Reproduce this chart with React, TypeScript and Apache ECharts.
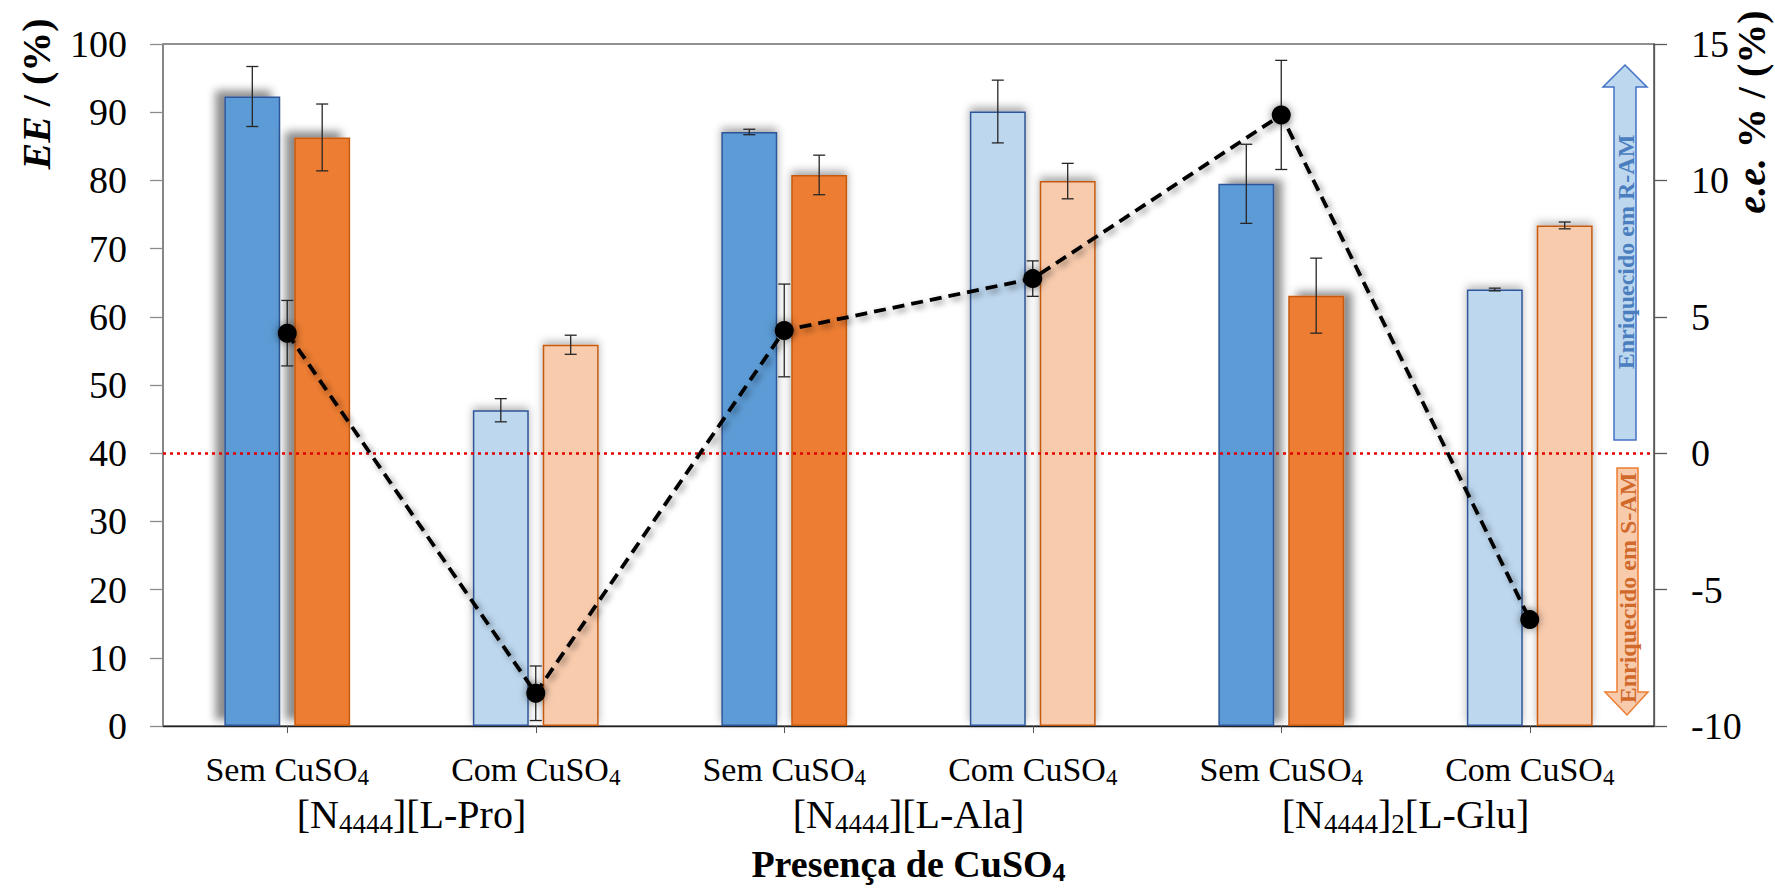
import React, { useEffect, useRef } from 'react';
import * as echarts from 'echarts';

// ---------- data ----------
const categories = ['Sem CuSO4', 'Com CuSO4', 'Sem CuSO4', 'Com CuSO4', 'Sem CuSO4', 'Com CuSO4'];
const groups = ['[N4444][L-Pro]', '[N4444][L-Ala]', '[N4444]2[L-Glu]'];
const rAm = [92.3, 46.3, 87.1, 90.1, 79.5, 64.0];
const rAmErr = [4.4, 1.7, 0.4, 4.6, 5.8, 0.2];
const sAm = [86.3, 55.9, 80.8, 79.9, 63.1, 73.4];
const sAmErr = [4.9, 1.4, 2.9, 2.6, 5.5, 0.5];
const ee = [4.4, -8.8, 4.5, 6.4, 12.4, -6.1];
const eeErr = [1.2, 1.0, 1.7, 0.65, 2.0, 0];
const leftAxis = { min: 0, max: 100, step: 10 };
const rightAxis = { min: -10, max: 15, step: 5 };
const xTitle = 'Presença de CuSO4';
const leftTitle = ['EE', ' / (%)'];
const rightTitle = ['e.e.', ' % / (%)'];
const arrowUpText = 'Enriquecido em R-AM';
const arrowDownText = 'Enriquecido em S-AM';

// ---------- styles ----------
const FONT = '"Liberation Serif", "Times New Roman", serif';
const BAR_W = 0.225;
const BAR_GAP = 0.25;
const BAR_OFFSET = (BAR_W * (1 + BAR_GAP)) / 2;
const shadowOffsets = [[-9, -6], [0, -3], [0, -4], [0, -4], [8, -4], [0, -3]];
const shadowAlpha = [0.45, 0.3, 0.35, 0.35, 0.45, 0.3];

const subMarkup = (s: string) => s.replace(/(\d+)/g, '{s|$1}');
const isCom = (c: string) => c.startsWith('Com');

function barItems(vals: number[], dark: string, light: string, border: string) {
  return vals.map((v, i) => ({
    value: v,
    itemStyle: {
      color: isCom(categories[i]) ? light : dark,
      borderColor: border,
      borderWidth: 1.5,
      shadowBlur: 8,
      shadowColor: `rgba(0,0,0,${shadowAlpha[i]})`,
      shadowOffsetX: shadowOffsets[i][0],
      shadowOffsetY: shadowOffsets[i][1],
    },
  }));
}

function errorRender(_params: any, api: any) {
  const i = api.value(0);
  const v = api.value(1);
  const e = api.value(2);
  const side = api.value(3);
  if (!e) return { type: 'group', children: [] };
  const band = api.size([1, 0])[0];
  const c = api.coord([i, v]);
  const x = c[0] + side * band * BAR_OFFSET;
  const y1 = api.coord([i, v + e])[1];
  const y2 = api.coord([i, v - e])[1];
  const w = 6;
  const style = { stroke: '#262626', lineWidth: 1.3 };
  return {
    type: 'group',
    children: [
      { type: 'line', shape: { x1: x, y1, x2: x, y2 }, style },
      { type: 'line', shape: { x1: x - w, y1, x2: x + w, y2: y1 }, style },
      { type: 'line', shape: { x1: x - w, y1: y2, x2: x + w, y2 }, style },
    ],
  };
}

export default function App() {
  const ref = useRef<HTMLDivElement>(null);
  useEffect(() => {
    if (!ref.current) return;
    const chart = echarts.init(ref.current, undefined, { renderer: 'svg' });
    const axisTextBase = { fontFamily: FONT, color: '#000' };
    const titleRich = {
      i: { fontSize: 40, lineHeight: 36, fontWeight: 'bold', fontStyle: 'italic', fontFamily: FONT, fill: '#000', color: '#000' },
      n: { fontSize: 40, lineHeight: 36, fontWeight: 'bold', fontFamily: FONT, fill: '#000', color: '#000' },
    };
    const option: any = {
      animation: false,
      backgroundColor: '#fff',
      grid: {
        left: 163, right: 121, top: 44, bottom: 162,
        show: true, borderColor: '#222', borderWidth: 1.2,
        outerBoundsMode: 'none',
      },
      xAxis: [
        {
          type: 'category',
          data: categories,
          position: 'bottom',
          axisLine: { show: true, lineStyle: { color: '#222', width: 1.3 } },
          axisTick: { show: true, alignWithLabel: true, length: 7, lineStyle: { color: '#555' } },
          axisLabel: {
            interval: 0, margin: 23, fontSize: 34, lineHeight: 40, ...axisTextBase,
            formatter: (v: string) => subMarkup(v),
            rich: { s: { fontSize: 23, lineHeight: 23, verticalAlign: 'bottom', ...axisTextBase } },
          },
          splitLine: { show: false },
        },
        {
          type: 'category',
          data: groups,
          position: 'bottom',
          offset: 0,
          axisLine: { show: false },
          axisTick: { show: false },
          axisLabel: {
            interval: 0, margin: 65, fontSize: 40, lineHeight: 46, ...axisTextBase,
            formatter: (v: string) => subMarkup(v),
            rich: { s: { fontSize: 27, lineHeight: 20, verticalAlign: 'bottom', ...axisTextBase } },
          },
          splitLine: { show: false },
          name: subMarkup(xTitle),
          nameLocation: 'middle',
          nameGap: 115,
          nameTextStyle: {
            fontSize: 38, fontWeight: 'bold', lineHeight: 44, ...axisTextBase,
            rich: { s: { fontSize: 26, fontWeight: 'bold', lineHeight: 20, verticalAlign: 'bottom', ...axisTextBase } },
          },
        },
      ],
      yAxis: [
        {
          type: 'value',
          min: leftAxis.min, max: leftAxis.max, interval: leftAxis.step,
          position: 'left',
          axisLine: { show: true, lineStyle: { color: '#8c8c8c', width: 1.5 } },
          axisTick: { show: true, length: 13, lineStyle: { color: '#8c8c8c', width: 1.3 } },
          axisLabel: { margin: 36, fontSize: 38, ...axisTextBase },
          splitLine: { show: false },
        },
        {
          type: 'value',
          min: rightAxis.min, max: rightAxis.max, interval: rightAxis.step,
          position: 'right',
          axisLine: { show: true, lineStyle: { color: '#595959', width: 1.3 } },
          axisTick: { show: true, length: 13, lineStyle: { color: '#595959', width: 1.3 } },
          axisLabel: { margin: 37, fontSize: 38, ...axisTextBase },
          splitLine: { show: false },
        },
      ],
      series: [
        {
          name: 'R-AM', type: 'bar', xAxisIndex: 0, yAxisIndex: 0,
          barWidth: `${BAR_W * 100}%`, barGap: `${BAR_GAP * 100}%`,
          data: barItems(rAm, '#5b9bd5', '#bdd7ee', '#2f5597'),
          z: 2,
        },
        {
          name: 'S-AM', type: 'bar', xAxisIndex: 0, yAxisIndex: 0,
          barWidth: `${BAR_W * 100}%`, barGap: `${BAR_GAP * 100}%`,
          data: barItems(sAm, '#ed7d31', '#f8cbad', '#c55a11'),
          z: 2,
        },
        {
          name: 'R-AM err', type: 'custom', xAxisIndex: 0, yAxisIndex: 0,
          renderItem: errorRender,
          data: rAm.map((v, i) => [i, v, rAmErr[i], -1]),
          z: 5, silent: true,
        },
        {
          name: 'S-AM err', type: 'custom', xAxisIndex: 0, yAxisIndex: 0,
          renderItem: errorRender,
          data: sAm.map((v, i) => [i, v, sAmErr[i], 1]),
          z: 5, silent: true,
        },
        {
          name: 'e.e. err', type: 'custom', xAxisIndex: 0, yAxisIndex: 1,
          renderItem: errorRender,
          data: ee.map((v, i) => [i, v, eeErr[i], 0]),
          z: 6, silent: true,
        },
        {
          name: 'e.e.', type: 'line', xAxisIndex: 0, yAxisIndex: 1,
          data: ee,
          symbol: 'circle', symbolSize: 19,
          itemStyle: { color: '#000', shadowBlur: 8, shadowColor: 'rgba(0,0,0,0.5)' },
          lineStyle: {
            color: '#000', width: 3.8, type: [12, 7],
            shadowBlur: 6, shadowColor: 'rgba(0,0,0,0.45)', shadowOffsetX: 3, shadowOffsetY: 3,
          },
          z: 7,
          markLine: {
            silent: true,
            symbol: ['none', 'none'],
            label: { show: false },
            lineStyle: { color: '#e00000', type: [3, 4], width: 2.5, shadowBlur: 0 },
            data: [{ yAxis: 0 }],
          },
        },
      ],
      graphic: [
        {
          type: 'text', x: 36, y: 94, rotation: Math.PI / 2,
          style: {
            text: `{i|${leftTitle[0]}}{n|${leftTitle[1]}}`,
            align: 'center', verticalAlign: 'middle', textAlign: 'center', textVerticalAlign: 'middle',
            rich: titleRich,
          },
        },
        {
          type: 'text', x: 1751, y: 112, rotation: Math.PI / 2,
          style: {
            text: `{i|${rightTitle[0]}}{n|${rightTitle[1]}}`,
            align: 'center', verticalAlign: 'middle', textAlign: 'center', textVerticalAlign: 'middle',
            rich: titleRich,
          },
        },
        {
          type: 'polygon',
          shape: { points: [[1625, 65], [1647, 87], [1636, 87], [1636, 440], [1614, 440], [1614, 87], [1603, 87]] },
          style: { fill: '#bdd7ee', stroke: '#4472c4', lineWidth: 1.5 },
          z: 10,
        },
        {
          type: 'text', x: 1626, y: 252, rotation: Math.PI / 2, z: 11,
          style: {
            text: arrowUpText, fontSize: 24, fontWeight: 'bold', fontFamily: FONT, fill: '#4a7ebf',
            align: 'center', verticalAlign: 'middle', textAlign: 'center', textVerticalAlign: 'middle',
          },
        },
        {
          type: 'polygon',
          shape: { points: [[1617, 468], [1638, 468], [1638, 692], [1648, 692], [1627, 715], [1605, 692], [1617, 692]] },
          style: { fill: '#f8cbad', stroke: '#ed7d31', lineWidth: 1.5 },
          z: 10,
        },
        {
          type: 'text', x: 1628, y: 588, rotation: Math.PI / 2, z: 11,
          style: {
            text: arrowDownText, fontSize: 24, fontWeight: 'bold', fontFamily: FONT, fill: '#d0692a',
            align: 'center', verticalAlign: 'middle', textAlign: 'center', textVerticalAlign: 'middle',
          },
        },
      ],
    };
    chart.setOption(option);
    return () => chart.dispose();
  }, []);
  return (
    <div
      ref={ref}
      style={{ position: 'fixed', left: 0, top: 0, width: 1775, height: 888, background: '#fff' }}
    />
  );
}
